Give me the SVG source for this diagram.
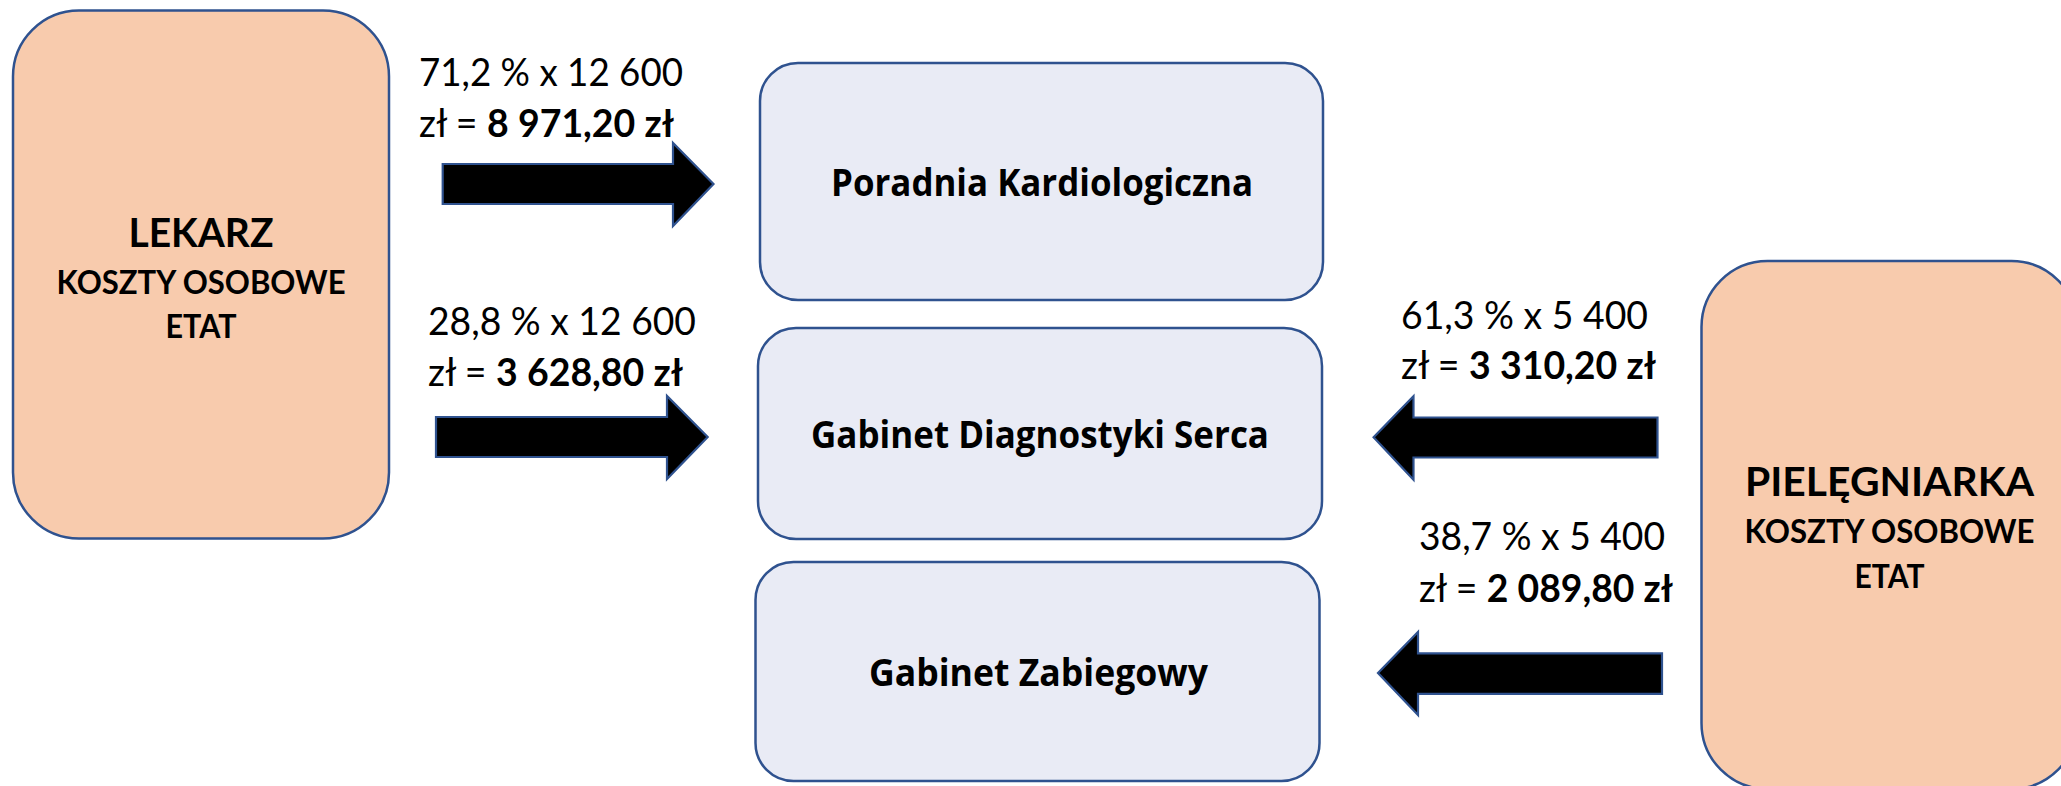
<svg xmlns="http://www.w3.org/2000/svg" width="2061" height="786" viewBox="0 0 2061 786">
<style>
.big{fill:#F8CBAD;stroke:#2F528F;stroke-width:2.5}
.box{fill:#E9EBF5;stroke:#2F528F;stroke-width:2.5}
.arr{fill:#000;stroke:#2F528F;stroke-width:2.2;stroke-linejoin:miter}
.t1{font-family:Lato,"Liberation Sans",sans-serif;font-weight:bold;font-size:41px;fill:#000;text-anchor:middle}
.t2{font-family:Lato,"Liberation Sans",sans-serif;font-weight:bold;font-size:32px;fill:#000;text-anchor:middle}
.bt{font-family:"Open Sans","Liberation Sans",sans-serif;font-weight:bold;font-size:38px;fill:#000}
.lb{font-family:Lato,"Liberation Sans",sans-serif;font-size:38px;fill:#000}
.b{font-weight:bold}
</style>
<rect width="2061" height="786" fill="#fff"/>
<g id="lekarz">
<rect class="big" x="13" y="10.5" width="376" height="528" rx="66" ry="66"/>
<text class="t1" x="201" y="247" textLength="145" lengthAdjust="spacingAndGlyphs">LEKARZ</text>
<text class="t2" x="201" y="294" textLength="289" lengthAdjust="spacingAndGlyphs">KOSZTY OSOBOWE</text>
<text class="t2" x="201" y="338" textLength="71" lengthAdjust="spacingAndGlyphs">ETAT</text>
</g>
<g id="pielegniarka">
<rect class="big" x="1701.5" y="261" width="376" height="528" rx="66" ry="66"/>
<text class="t1" x="1889.5" y="496" textLength="289" lengthAdjust="spacingAndGlyphs">PIELĘGNIARKA</text>
<text class="t2" x="1889.5" y="543" textLength="290" lengthAdjust="spacingAndGlyphs">KOSZTY OSOBOWE</text>
<text class="t2" x="1889.5" y="588" textLength="70" lengthAdjust="spacingAndGlyphs">ETAT</text>
</g>
<g id="poradnia">
<rect class="box" x="760" y="63" width="563" height="237" rx="38" ry="38"/>
<text class="bt" x="831" y="196" textLength="422" lengthAdjust="spacingAndGlyphs">Poradnia Kardiologiczna</text>
</g>
<g id="diagnostyka">
<rect class="box" x="758" y="328" width="564" height="211" rx="38" ry="38"/>
<text class="bt" x="811" y="448" textLength="458" lengthAdjust="spacingAndGlyphs">Gabinet Diagnostyki Serca</text>
</g>
<g id="zabiegowy">
<rect class="box" x="755.5" y="562" width="564" height="219" rx="38" ry="38"/>
<text class="bt" x="869" y="686" textLength="339" lengthAdjust="spacingAndGlyphs">Gabinet Zabiegowy</text>
</g>
<g id="connectors">
<path class="arr" d="M442.7,164 H673 V143 L713.5,184 L673,226 V204 H442.7 Z"/>
<path class="arr" d="M436,417 H667 V396 L707.7,437 L667,479 V457 H436 Z"/>
<path class="arr" d="M1657.5,417.5 H1413.5 V396.3 L1373.6,437.3 L1413.5,479.7 V457.5 H1657.5 Z"/>
<path class="arr" d="M1662,653.4 H1418 V632 L1378,673 L1418,715 V693.8 H1662 Z"/>
<text class="lb" x="419" y="86" textLength="264" lengthAdjust="spacingAndGlyphs">71,2 % x 12 600</text>
<text class="lb" x="419" y="137" textLength="255" lengthAdjust="spacingAndGlyphs">zł = <tspan class="b">8 971,20 zł</tspan></text>
<text class="lb" x="428" y="335" textLength="268" lengthAdjust="spacingAndGlyphs">28,8 % x 12 600</text>
<text class="lb" x="428" y="386" textLength="255" lengthAdjust="spacingAndGlyphs">zł = <tspan class="b">3 628,80 zł</tspan></text>
<text class="lb" x="1401" y="329" textLength="247" lengthAdjust="spacingAndGlyphs">61,3 % x 5 400</text>
<text class="lb" x="1401" y="379" textLength="255" lengthAdjust="spacingAndGlyphs">zł = <tspan class="b">3 310,20 zł</tspan></text>
<text class="lb" x="1419" y="550" textLength="246" lengthAdjust="spacingAndGlyphs">38,7 % x 5 400</text>
<text class="lb" x="1419" y="602" textLength="254" lengthAdjust="spacingAndGlyphs">zł = <tspan class="b">2 089,80 zł</tspan></text>
</g>
</svg>
